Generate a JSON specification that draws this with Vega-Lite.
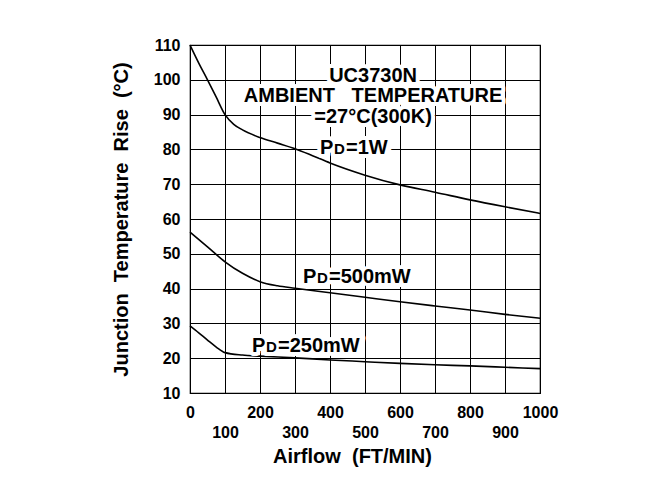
{
  "$schema": "https://vega.github.io/schema/vega-lite/v6.json",
  "width": 350,
  "height": 348,
  "autosize": "none",
  "padding": {"left": 190, "top": 45, "right": 112, "bottom": 91},
  "background": "white",
  "config": {
    "font": "Liberation Sans",
    "view": {"stroke": "#000", "strokeWidth": 1.2}
  },
  "datasets": {
    "curves": [
      {"series": "1W", "x": 0, "y": 110}, {"series": "1W", "x": 25, "y": 104.8}, {"series": "1W", "x": 50, "y": 100},
      {"series": "1W", "x": 75, "y": 95}, {"series": "1W", "x": 100, "y": 90}, {"series": "1W", "x": 125, "y": 87.2},
      {"series": "1W", "x": 150, "y": 85.6}, {"series": "1W", "x": 200, "y": 83.4}, {"series": "1W", "x": 250, "y": 81.8},
      {"series": "1W", "x": 300, "y": 80.2}, {"series": "1W", "x": 350, "y": 78.2}, {"series": "1W", "x": 400, "y": 76.1},
      {"series": "1W", "x": 500, "y": 72.6}, {"series": "1W", "x": 600, "y": 69.8}, {"series": "1W", "x": 700, "y": 67.7},
      {"series": "1W", "x": 800, "y": 65.5}, {"series": "1W", "x": 900, "y": 63.5}, {"series": "1W", "x": 1000, "y": 61.6},
      {"series": "500mW", "x": 0, "y": 56.2}, {"series": "500mW", "x": 50, "y": 52}, {"series": "500mW", "x": 100, "y": 47.7},
      {"series": "500mW", "x": 150, "y": 44.4}, {"series": "500mW", "x": 200, "y": 42}, {"series": "500mW", "x": 250, "y": 40.8},
      {"series": "500mW", "x": 300, "y": 40.1}, {"series": "500mW", "x": 400, "y": 38.8}, {"series": "500mW", "x": 500, "y": 37.5},
      {"series": "500mW", "x": 600, "y": 36.2}, {"series": "500mW", "x": 700, "y": 35}, {"series": "500mW", "x": 800, "y": 33.85},
      {"series": "500mW", "x": 900, "y": 32.6}, {"series": "500mW", "x": 1000, "y": 31.5},
      {"series": "250mW", "x": 0, "y": 29.3}, {"series": "250mW", "x": 25, "y": 27.3}, {"series": "250mW", "x": 50, "y": 25.2},
      {"series": "250mW", "x": 75, "y": 23.2}, {"series": "250mW", "x": 100, "y": 21.6}, {"series": "250mW", "x": 150, "y": 20.9},
      {"series": "250mW", "x": 200, "y": 20.6}, {"series": "250mW", "x": 300, "y": 20.1}, {"series": "250mW", "x": 400, "y": 19.5},
      {"series": "250mW", "x": 500, "y": 19}, {"series": "250mW", "x": 600, "y": 18.5}, {"series": "250mW", "x": 700, "y": 18.1},
      {"series": "250mW", "x": 800, "y": 17.8}, {"series": "250mW", "x": 900, "y": 17.4}, {"series": "250mW", "x": 1000, "y": 17}
    ],
    "notes": [
      {"label": "UC3730N", "x": 523, "y": 99.4},
      {"label": "AMBIENT\u00a0\u00a0\u00a0TEMPERATURE", "x": 523, "y": 93.6},
      {"label": "=27°C(300K)", "x": 523, "y": 87.7}
    ],
    "pd": [
      {"x": 371.4, "y": 78.7, "full": "PD=1W", "rest": "=1W"},
      {"x": 322.9, "y": 41.6, "full": "PD=500mW", "rest": "=500mW"},
      {"x": 177.1, "y": 21.8, "full": "PD=250mW", "rest": "=250mW"}
    ]
  },
  "encoding": {
    "x": {
      "field": "x", "type": "quantitative",
      "scale": {"domain": [0, 1000], "nice": false},
      "axis": {
        "values": [0, 100, 200, 300, 400, 500, 600, 700, 800, 900, 1000],
        "format": "d",
        "grid": true, "gridColor": "#000", "gridWidth": 1,
        "domain": false, "ticks": false,
        "labelOverlap": false, "labelFlush": false,
        "labelFont": "Liberation Sans", "labelFontSize": 16, "labelFontWeight": "bold", "labelColor": "#000",
        "labelPadding": 11,
        "labelLineHeight": 56,
        "labelBaseline": {"condition": {"test": "datum.value % 200 != 0", "value": "line-top"}, "value": "top"},
        "title": "Airflow\u00a0\u00a0(FT/MIN)",
        "titleFont": "Liberation Sans", "titleFontSize": 20, "titleFontWeight": "bold", "titleColor": "#000",
        "titleX": 162, "titleY": 69, "titleBaseline": "alphabetic", "titleAlign": "center"
      }
    },
    "y": {
      "field": "y", "type": "quantitative",
      "scale": {"domain": [10, 110], "nice": false},
      "axis": {
        "values": [10, 20, 30, 40, 50, 60, 70, 80, 90, 100, 110],
        "format": "d",
        "grid": true, "gridColor": "#000", "gridWidth": 1,
        "domain": false, "ticks": false,
        "labelOverlap": false, "labelFlush": false,
        "labelFont": "Liberation Sans", "labelFontSize": 16, "labelFontWeight": "bold", "labelColor": "#000",
        "labelPadding": 10,
        "title": "Junction\u00a0\u00a0Temperature\u00a0\u00a0Rise\u00a0\u00a0(°C)",
        "titleFont": "Liberation Sans", "titleFontSize": 20, "titleFontWeight": "bold", "titleColor": "#000",
        "titlePadding": 22
      }
    }
  },
  "layer": [
    {
      "data": {"name": "curves"},
      "mark": {"type": "line", "interpolate": "monotone", "color": "#000", "strokeWidth": 1.6},
      "encoding": {"detail": {"field": "series"}}
    },
    {
      "data": {"name": "notes"},
      "mark": {"type": "text", "font": "Liberation Sans", "fontSize": 20, "fontWeight": "bold", "align": "center", "baseline": "alphabetic", "stroke": "white", "strokeWidth": 8, "strokeJoin": "round", "fill": "white"},
      "encoding": {"text": {"field": "label"}}
    },
    {
      "data": {"name": "pd"},
      "mark": {"type": "text", "font": "Liberation Sans", "fontSize": 20, "fontWeight": "bold", "align": "left", "baseline": "alphabetic", "stroke": "white", "strokeWidth": 8, "strokeJoin": "round", "fill": "white"},
      "encoding": {"text": {"field": "full"}}
    },
    {
      "data": {"name": "notes"},
      "mark": {"type": "text", "font": "Liberation Sans", "fontSize": 20, "fontWeight": "bold", "align": "center", "baseline": "alphabetic", "color": "#000"},
      "encoding": {"text": {"field": "label"}}
    },
    {
      "data": {"name": "pd"},
      "mark": {"type": "text", "font": "Liberation Sans", "fontSize": 20, "fontWeight": "bold", "align": "left", "baseline": "alphabetic", "color": "#000"},
      "encoding": {"text": {"value": "P"}}
    },
    {
      "data": {"name": "pd"},
      "mark": {"type": "text", "font": "Liberation Sans", "fontSize": 15, "fontWeight": "bold", "align": "left", "baseline": "alphabetic", "dx": 14, "color": "#000"},
      "encoding": {"text": {"value": "D"}}
    },
    {
      "data": {"name": "pd"},
      "mark": {"type": "text", "font": "Liberation Sans", "fontSize": 20, "fontWeight": "bold", "align": "left", "baseline": "alphabetic", "dx": 26, "color": "#000"},
      "encoding": {"text": {"field": "rest"}}
    }
  ]
}
